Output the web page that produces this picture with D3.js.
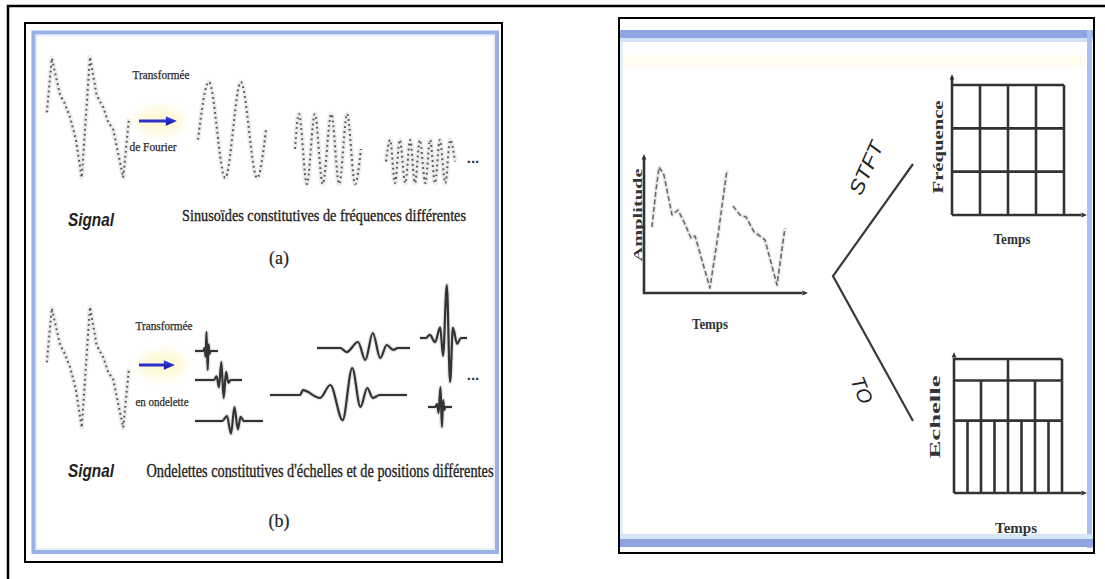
<!DOCTYPE html>
<html><head><meta charset="utf-8">
<script src="https://cdn.jsdelivr.net/npm/d3@7/dist/d3.min.js"></script>
<style>html,body{margin:0;padding:0;background:#fff}svg{display:block}</style>
</head><body>
<svg id="fig" width="1105" height="579"></svg>
<script>
// ---------- data ----------
// test signal: time (0-100) vs amplitude (0-100)
const signalProfile = [[1,55],[7,99],[17,69],[22,63],[29,51],[36,33],[43,2],[53,100],[61,69],[69,59],[75,47],[81,41],[93,2],[100,50]];

// Fourier components: extrema (t 0-100, v -1..1)
const sinusoidLow  = [[0,-0.2],[16,1],[40,-1],[63,1],[87,-1],[100,0]];
const sinusoidMid  = [[0,0],[6,1],[18,-1],[30,1],[42,-1],[55,1],[67,-1],[79,1],[91,-1],[100,0]];
const sinusoidHigh = [[0,0],[6,1],[13,-1],[20,1],[28,-1],[35,1],[42,-1],[49,1],[57,-1],[64,1],[71,-1],[78,1],[86,-1],[93,1],[100,0]];

// wavelet atoms: extrema (t 0-100, v -1..1)
const waveletA = [[0,0],[35,0],[42,0.15],[46,-0.3],[50,1],[55,-1],[59,0.35],[63,-0.15],[68,0],[100,0]];
const waveletB = [[0,0],[40,0],[46,0.2],[51,-0.4],[56,1],[61,-1],[66,0.45],[71,-0.15],[76,0],[100,0]];
const waveletC = [[0,0],[40,0],[47,0.35],[53,-0.9],[58,1],[63,-0.6],[67,0.3],[72,0],[100,0]];
const waveletD = [[0,0],[22,0],[24,0.18],[36.5,-0.11],[44,0.37],[53,-0.93],[60,1],[66,-0.44],[71,0.26],[75,-0.11],[80,0],[100,0]];
const waveletE = [[0,0],[25,0],[32,-0.27],[44,0.4],[52,-0.8],[60,1],[68,-0.67],[75,0.2],[82,-0.13],[87,0],[100,0]];
const waveletF = [[0,0],[12,0],[21,0.06],[32,-0.08],[43,0.2],[49,-0.34],[57,1],[64,-0.83],[70,0.19],[79,-0.11],[87,0],[100,0]];
const waveletG = [[0,0],[30,0],[38,0.15],[44,-0.3],[52,1],[58,-1],[63,0.35],[68,-0.15],[72,0],[100,0]];

// amplitude/time signal of the right panel (two dashed strokes)
const ampSignalPart1 = [[4.9,48.5],[7.4,75.7],[9.3,92.6],[12.3,86.8],[17.3,57.4],[21.0,61.0],[24.7,52.2],[29.0,40.4],[31.5,41.9],[40.7,3.7],[45.7,42.6],[51.2,90.4]];
const ampSignalPart2 = [[54.9,64.0],[59.3,57.4],[63.0,55.9],[67.9,44.9],[71.6,41.9],[74.7,39.0],[82.1,5.9],[87.0,47.8]];

// STFT tiling: uniform time and frequency bins
const stftTimeEdges = [0,1,2,3,4];
const stftFreqEdges = [0,1,2,3];
// wavelet tiling: cells per scale band, band limits as fraction of axis height
const wtBands = [{cells:8, lo:0, hi:0.54},{cells:4, lo:0.54, hi:0.84},{cells:2, lo:0.84, hi:1}];

// texts
const labelSignal = "Signal";
const labelFourierTop = "Transformée", labelFourierBottom = "de Fourier";
const labelWaveTop = "Transformée", labelWaveBottom = "en ondelette";
const captionA = "Sinusoïdes constitutives de fréquences différentes";
const captionB = "Ondelettes constitutives d'échelles et de positions différentes";
const panelTags = ["(a)","(b)"];
const axisLabels = {amp:"Amplitude", time:"Temps", freq:"Fréquence", scale:"Echelle"};
const branchLabels = ["STFT","TO"];

// ---------- drawing ----------
const svg = d3.select("#fig");
const SERIF = "'Liberation Serif','Times New Roman',serif";
const SANS = "'Liberation Sans',Arial,sans-serif";
const defs = svg.append("defs");
defs.append("filter").attr("id","glow").attr("x","-50%").attr("y","-50%").attr("width","200%").attr("height","200%")
  .append("feGaussianBlur").attr("stdDeviation",4);
const grad = defs.append("linearGradient").attr("id","arrowBlue").attr("x1",0).attr("x2",0).attr("y1",0).attr("y2",1);
grad.append("stop").attr("offset","0%").attr("stop-color","#3a46e6");
grad.append("stop").attr("offset","100%").attr("stop-color","#1010a0");

function text(g, str, x, y, o) {
  const t = g.append("text").attr("x", x).attr("y", y).text(str)
    .attr("font-family", o.family || SERIF).attr("font-size", o.size)
    .attr("font-weight", o.weight || "normal").attr("font-style", o.style || "normal")
    .attr("fill", o.fill || "#1a1a1a").attr("text-anchor", o.anchor || "middle");
  if (o.heavy) t.attr("stroke", o.fill || "#1a1a1a").attr("stroke-width", o.heavy);
  if (o.length) t.attr("textLength", o.length).attr("lengthAdjust", "spacingAndGlyphs");
  if (o.rotate !== undefined) t.attr("transform", `rotate(${o.rotate},${x},${y})`);
  if (o.dy) t.attr("dy", o.dy);
  return t;
}

function curve(g, pts, box, style) {
  const x = d3.scaleLinear().domain(box.xd || [0,100]).range([box.x0, box.x1]);
  const y = d3.scaleLinear().domain(box.yd || [-1,1]).range([box.yb, box.yt]);
  const line = d3.line().x(d => x(d[0])).y(d => y(d[1])).curve(style.curve || d3.curveLinear);
  if (style.halo) g.append("path").attr("d", line(pts)).attr("fill","none")
      .attr("stroke", style.halo).attr("stroke-width", style.haloWidth || 5).attr("stroke-linejoin","round")
      .attr("stroke-opacity", style.haloOpacity || 0.5);
  const p = g.append("path").attr("d", line(pts)).attr("fill","none")
    .attr("stroke", style.stroke).attr("stroke-width", style.width).attr("stroke-linejoin","round");
  if (style.dash) p.attr("stroke-dasharray", style.dash);
  return p;
}

function arrowHead(g, x, y, dir, size, fill) {
  const s = size;
  const pts = dir === "right" ? [[x,y],[x-s*1.4,y-s*0.6],[x-s*1.4,y+s*0.6]] : [[x,y],[x-s*0.6,y+s*1.4],[x+s*0.6,y+s*1.4]];
  g.append("path").attr("d", d3.line()(pts) + "Z").attr("fill", fill);
}

// outer frame
svg.append("path").attr("d","M8,579V6H1105").attr("fill","none").attr("stroke","#000").attr("stroke-width",2.5);

// ===== left panel =====
const L = svg.append("g");
L.append("rect").attr("x",25).attr("y",23).attr("width",477).attr("height",539)
  .attr("fill","#fff").attr("stroke","#000").attr("stroke-width",2);
L.append("rect").attr("x",33.5).attr("y",32.5).attr("width",463.5).attr("height",519.5)
  .attr("fill","none").attr("stroke","#98b2e6").attr("stroke-width",4);
L.append("rect").attr("x",36.5).attr("y",35.5).attr("width",457.5).attr("height",513.5)
  .attr("fill","none").attr("stroke","#e2ecf9").attr("stroke-width",1.5);

const dotted = {stroke:"#555", width:2, dash:"1.8 3.2", halo:"#dcdcdc", haloWidth:5, haloOpacity:0.5};

// --- (a) Fourier ---
const A = L.append("g");
curve(A, signalProfile, {x0:46, x1:129, yd:[0,100], yb:180, yt:57}, dotted);
A.append("ellipse").attr("cx",160).attr("cy",121).attr("rx",24).attr("ry",14).attr("fill","#fff3b8").attr("opacity",0.55).attr("filter","url(#glow)");
text(A, labelFourierTop, 161, 79, {size:12, length:57, fill:"#2a2a2a", heavy:0.25});
A.append("line").attr("x1",139).attr("x2",166).attr("y1",121).attr("y2",121).attr("stroke","#2b30c8").attr("stroke-width",3);
arrowHead(A, 177, 121, "right", 8, "url(#arrowBlue)");
text(A, labelFourierBottom, 153, 151, {size:12, length:47, fill:"#2a2a2a", heavy:0.25});
const sinStyle = Object.assign({}, dotted, {curve: d3.curveMonotoneX});
curve(A, sinusoidLow,  {x0:198, x1:266, yb:178, yt:82}, sinStyle);
curve(A, sinusoidMid,  {x0:295, x1:361, yb:184, yt:114}, sinStyle);
curve(A, sinusoidHigh, {x0:386, x1:455, yb:183, yt:140}, sinStyle);
text(A, "...", 473, 163, {size:15, weight:"bold", family:SANS, fill:"#333"});
text(A, labelSignal, 91, 226, {size:18, weight:"bold", style:"italic", family:SANS, length:46, fill:"#222"});
text(A, captionA, 324, 221, {size:17, length:284, fill:"#222", heavy:0.35});
text(A, panelTags[0], 279, 264, {size:18, fill:"#222", heavy:0.2});

// --- (b) wavelet ---
const B = L.append("g");
curve(B, signalProfile, {x0:46, x1:129, yd:[0,100], yb:430, yt:307}, dotted);
B.append("ellipse").attr("cx",162).attr("cy",365).attr("rx",24).attr("ry",14).attr("fill","#fff3b8").attr("opacity",0.55).attr("filter","url(#glow)");
text(B, labelWaveTop, 164, 330, {size:12, length:57, fill:"#2a2a2a", heavy:0.25});
B.append("line").attr("x1",139).attr("x2",164).attr("y1",365).attr("y2",365).attr("stroke","#2b30c8").attr("stroke-width",3);
arrowHead(B, 175, 365, "right", 8, "url(#arrowBlue)");
text(B, labelWaveBottom, 162, 406, {size:12, length:53, fill:"#2a2a2a", heavy:0.25});
const waveStyle = {stroke:"#333", width:2.2, curve:d3.curveMonotoneX, halo:"#c8c8c8", haloWidth:4.5, haloOpacity:0.5};
const waveletLayout = [
  [waveletA, 195, 218, 332, 370],
  [waveletB, 195, 242, 362, 398],
  [waveletC, 195, 263, 407, 435],
  [waveletD, 270, 407, 368, 422],
  [waveletE, 317, 410, 333, 363],
  [waveletF, 420, 467, 285, 391],
  [waveletG, 428, 452, 387, 427]
];
waveletLayout.forEach(([pts, x0, x1, yt, yb]) => curve(B, pts, {x0, x1, yt, yb}, waveStyle));
text(B, "...", 473, 380, {size:15, weight:"bold", family:SANS, fill:"#333"});
text(B, labelSignal, 91, 477, {size:18, weight:"bold", style:"italic", family:SANS, length:46, fill:"#222"});
text(B, captionB, 320, 477, {size:18, length:347, fill:"#222", heavy:0.35});
text(B, panelTags[1], 279, 527, {size:18, fill:"#222", heavy:0.2});

// ===== right panel =====
const R = svg.append("g");
R.append("rect").attr("x",619).attr("y",18).attr("width",475).attr("height",535)
  .attr("fill","#fff").attr("stroke","#000").attr("stroke-width",2);
R.append("rect").attr("x",620).attr("y",38).attr("width",3).attr("height",500).attr("fill","#e2f1f8");
R.append("rect").attr("x",620).attr("y",38).attr("width",473).attr("height",4).attr("fill","#d2e2f6");
R.append("rect").attr("x",620).attr("y",30).attr("width",473).attr("height",8).attr("fill","#8ea5e2");
R.append("rect").attr("x",623).attr("y",55).attr("width",463).attr("height",12).attr("fill","#fffcef");
R.append("rect").attr("x",1087).attr("y",30).attr("width",5).attr("height",518).attr("fill","#a9c1ee");
R.append("rect").attr("x",620).attr("y",534).attr("width",473).attr("height",5).attr("fill","#d4e6f6");
R.append("rect").attr("x",620).attr("y",539).attr("width",473).attr("height",8).attr("fill","#8ea5e2");

const axisStroke = "#333", axisW = 2.6;
// amplitude vs time
R.append("path").attr("d",`M644,158V293H802`).attr("fill","none").attr("stroke",axisStroke).attr("stroke-width",axisW);
arrowHead(R, 644, 154, "up", 4, axisStroke);
arrowHead(R, 808, 293, "right", 4, axisStroke);
const dashStyle = {stroke:"#6a6a6a", width:1.6, dash:"5 2.6", halo:"#d8d8d8", haloWidth:4, haloOpacity:0.5};
[ampSignalPart1, ampSignalPart2].forEach(p => curve(R, p, {x0:644, x1:806, yd:[0,100], yb:293, yt:157}, dashStyle));
text(R, axisLabels.amp, 642, 215, {size:13, weight:"bold", rotate:-90, length:93, fill:"#333"});
text(R, axisLabels.time, 710, 329, {size:14, weight:"bold", length:36, fill:"#333"});

// branches
R.append("path").attr("d","M913,164L833,276L913,421").attr("fill","none").attr("stroke","#3a3a3a").attr("stroke-width",2.2);
text(R, branchLabels[0], 866, 168, {size:20, style:"italic", family:SANS, rotate:-66, length:56, dy:"0.35em", fill:"#222"});
text(R, branchLabels[1], 862, 390, {size:20, style:"italic", family:SANS, rotate:68, dy:"0.35em", fill:"#222"});

// STFT tiling
const gx = d3.scaleLinear().domain([0,4]).range([952,1064]);
const gy = d3.scaleLinear().domain([0,3]).range([215,85]);
const G1 = R.append("g").attr("stroke",axisStroke).attr("stroke-width",axisW);
stftTimeEdges.forEach(t => G1.append("line").attr("x1",gx(t)).attr("x2",gx(t)).attr("y1",gy(0)).attr("y2",t===0?78:gy(3)));
stftFreqEdges.forEach(f => G1.append("line").attr("y1",gy(f)).attr("y2",gy(f)).attr("x1",gx(0)).attr("x2",f===0?1081:gx(4)));
arrowHead(R, gx(0), 74, "up", 4, axisStroke);
arrowHead(R, 1087, gy(0), "right", 4, axisStroke);
text(R, axisLabels.freq, 943, 147, {size:14, weight:"bold", rotate:-90, length:93, fill:"#333"});
text(R, axisLabels.time, 1012, 244, {size:14, weight:"bold", length:37, fill:"#333"});

// wavelet tiling
const wx = d3.scaleLinear().domain([0,1]).range([954,1062]);
const wy = d3.scaleLinear().domain([0,1]).range([493,359]);
const G2 = R.append("g").attr("stroke",axisStroke).attr("stroke-width",axisW);
G2.append("line").attr("x1",wx(0)).attr("x2",wx(0)).attr("y1",wy(0)).attr("y2",358);
G2.append("line").attr("x1",wx(0)).attr("x2",1081).attr("y1",wy(0)).attr("y2",wy(0));
wtBands.forEach(b => {
  G2.append("line").attr("x1",wx(0)).attr("x2",wx(1)).attr("y1",wy(b.hi)).attr("y2",wy(b.hi));
  d3.range(1, b.cells + 1).forEach(k => G2.append("line")
    .attr("x1",wx(k/b.cells)).attr("x2",wx(k/b.cells)).attr("y1",wy(b.lo)).attr("y2",wy(b.hi)));
});
arrowHead(R, wx(0), 352, "up", 4, axisStroke);
arrowHead(R, 1087, wy(0), "right", 4, axisStroke);
text(R, axisLabels.scale, 940, 417, {size:14, weight:"bold", rotate:-90, length:83, fill:"#333"});
text(R, axisLabels.time, 1016, 533, {size:14, weight:"bold", length:42, fill:"#333"});
</script>
</body></html>
